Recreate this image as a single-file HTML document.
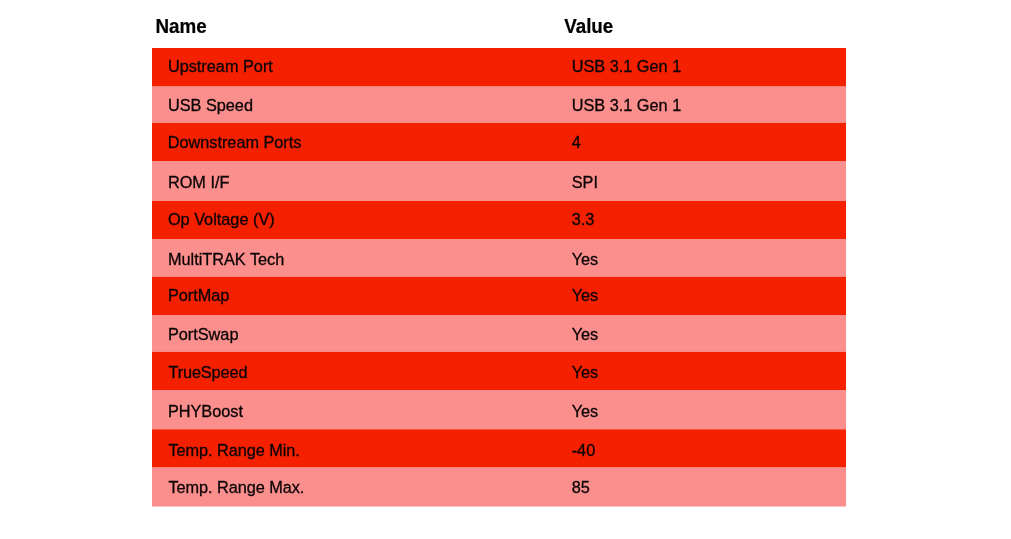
<!DOCTYPE html>
<html lang="en"><head><meta charset="utf-8"><title>Specifications</title>
<style>
html,body{margin:0;padding:0;background:#fff;}
body{width:1011px;height:539px;position:relative;overflow:hidden;font-family:"Liberation Sans",Arial,sans-serif;}
svg{position:absolute;left:0;top:0;}
.h{font-weight:bold;font-size:18.8px;fill:#000;stroke:#000;stroke-width:0.2px;}
.c{font-size:16.3px;fill:#0c0505;stroke:#0c0505;stroke-width:0.3px;}
</style></head><body>
<svg width="1011" height="539" viewBox="0 0 1011 539">
<rect x="152" y="48" width="694" height="38.6" fill="#f52000"/>
<rect x="152" y="86.6" width="694" height="36.2" fill="#fb8f8e"/>
<rect x="152" y="122.8" width="694" height="38.2" fill="#f52000"/>
<rect x="152" y="161" width="694" height="40" fill="#fb8f8e"/>
<rect x="152" y="201" width="694" height="38" fill="#f52000"/>
<rect x="152" y="239" width="694" height="37.8" fill="#fb8f8e"/>
<rect x="152" y="276.8" width="694" height="38.2" fill="#f52000"/>
<rect x="152" y="315" width="694" height="36.8" fill="#fb8f8e"/>
<rect x="152" y="351.8" width="694" height="38.2" fill="#f52000"/>
<rect x="152" y="390" width="694" height="39.3" fill="#fb8f8e"/>
<rect x="152" y="429.3" width="694" height="38.3" fill="#f52000"/>
<rect x="152" y="467.6" width="694" height="38.9" fill="#fb8f8e"/>
<g transform="translate(0 33) scale(1 1.06)"><text class="h" x="155.5" y="0">Name</text><text class="h" x="564.2" y="0">Value</text></g>
<text class="c" x="167.9" y="72">Upstream Port</text><text class="c" x="571.7" y="72">USB 3.1 Gen 1</text>
<text class="c" x="167.9" y="111">USB Speed</text><text class="c" x="571.7" y="111">USB 3.1 Gen 1</text>
<text class="c" x="167.8" y="148" textLength="133.6" lengthAdjust="spacing">Downstream Ports</text><text class="c" x="571.7" y="148">4</text>
<text class="c" x="167.9" y="188">ROM I/F</text><text class="c" x="571.7" y="188">SPI</text>
<text class="c" x="167.9" y="225">Op Voltage (V)</text><text class="c" x="571.7" y="225">3.3</text>
<text class="c" x="167.9" y="265">MultiTRAK Tech</text><text class="c" x="571.7" y="265">Yes</text>
<text class="c" x="167.9" y="301">PortMap</text><text class="c" x="571.7" y="301">Yes</text>
<text class="c" x="167.9" y="340">PortSwap</text><text class="c" x="571.7" y="340">Yes</text>
<text class="c" x="168.4" y="378" textLength="79.1" lengthAdjust="spacing">TrueSpeed</text><text class="c" x="571.7" y="378">Yes</text>
<text class="c" x="167.9" y="417">PHYBoost</text><text class="c" x="571.7" y="417">Yes</text>
<text class="c" x="168.4" y="456" textLength="131.4" lengthAdjust="spacing">Temp. Range Min.</text><text class="c" x="571.7" y="456">-40</text>
<text class="c" x="168.4" y="493" textLength="135.9" lengthAdjust="spacing">Temp. Range Max.</text><text class="c" x="571.7" y="493">85</text>
</svg>
</body></html>
